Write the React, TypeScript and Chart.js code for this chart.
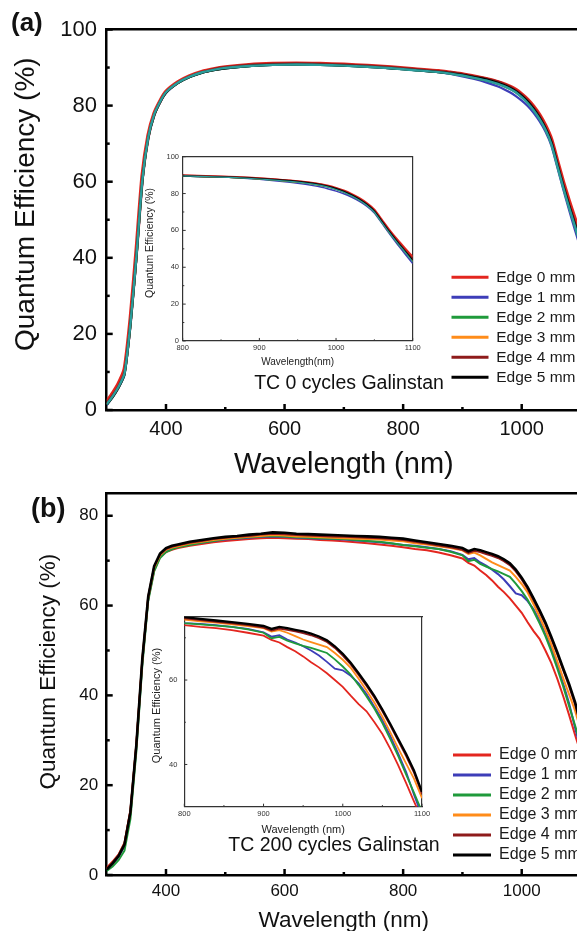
import React, { useEffect, useRef } from 'react';
import { Chart, registerables } from 'chart.js';

Chart.register(...registerables);

const FONT = "'Liberation Sans', Arial, Helvetica, sans-serif";

// ---------------- data ----------------
const seriesLabels = ['Edge 0 mm', 'Edge 1 mm', 'Edge 2 mm', 'Edge 3 mm', 'Edge 4 mm', 'Edge 5 mm'];
const seriesColors = ['#e3261f', '#3d3db8', '#1f9a3b', '#ff8c1a', '#8e1b1b', '#000000'];
const extraColor = '#2a9d9b';

const mainXTicks = [400, 600, 800, 1000];
const mainXMinor = [500, 700, 900];
const mainYTicksA = [0, 20, 40, 60, 80, 100];
const mainYMinorA = [10, 30, 50, 70, 90];
const mainYTicksB = [0, 20, 40, 60, 80];
const mainYMinorB = [10, 30, 50, 70];
const insetXTicks = [800, 900, 1000, 1100];
const insetXMinor = [850, 950, 1050];
const insetYTicksA = [0, 20, 40, 60, 80, 100];
const insetYMinorA = [10, 30, 50, 70, 90];
const insetYTicksB = [40, 60];
const insetYMinorB = [50, 70];

// Panel (a): TC 0 cycles
const wavelengthA = [300, 310, 320, 330, 340, 350, 360, 370, 380, 390, 400, 420, 440, 460, 480, 500, 540, 580, 620, 660, 700, 740, 780, 820, 860, 880, 900, 920, 940, 960, 970, 980, 990, 1000, 1010, 1020, 1030, 1040, 1050, 1060, 1070, 1080, 1090, 1100];
const qeA_edge0 = [2.2, 4.4, 7.0, 10.8, 24.0, 42.0, 61.5, 72.2, 77.9, 81.2, 83.7, 86.2, 87.8, 88.9, 89.6, 90.1, 90.7, 91.0, 91.1, 91.0, 90.8, 90.5, 90.1, 89.6, 89.1, 88.7, 88.3, 87.7, 87.0, 86.2, 85.7, 85.0, 84.2, 83.0, 81.6, 79.8, 77.6, 74.8, 71.2, 65.6, 60.0, 54.9, 50.2, 45.6];
const qeA_edge1 = [1.3, 3.3, 5.8, 9.2, 22.0, 39.5, 59.5, 71.2, 77.3, 80.8, 83.3, 85.9, 87.5, 88.6, 89.3, 89.8, 90.4, 90.7, 90.8, 90.7, 90.5, 90.2, 89.8, 89.3, 88.8, 88.3, 87.7, 87.0, 86.1, 85.0, 84.3, 83.5, 82.5, 81.3, 79.9, 78.1, 75.9, 73.2, 69.5, 63.8, 58.0, 52.5, 47.2, 42.0];
const qeA_edge2 = [1.4, 3.4, 5.9, 9.4, 22.3, 39.8, 59.8, 71.4, 77.4, 80.9, 83.4, 85.9, 87.5, 88.6, 89.3, 89.8, 90.4, 90.7, 90.8, 90.7, 90.5, 90.2, 89.8, 89.3, 88.8, 88.4, 87.9, 87.3, 86.6, 85.7, 85.1, 84.4, 83.5, 82.3, 80.8, 78.9, 76.6, 73.8, 70.0, 64.3, 58.6, 53.3, 48.2, 43.2];
const qeA_edge3 = [1.5, 3.5, 6.0, 9.5, 22.5, 40.0, 60.0, 71.5, 77.5, 81.0, 83.5, 86.0, 87.6, 88.7, 89.4, 89.9, 90.5, 90.8, 90.9, 90.8, 90.6, 90.3, 89.9, 89.4, 88.9, 88.5, 88.0, 87.4, 86.7, 85.8, 85.2, 84.5, 83.6, 82.4, 80.9, 79.0, 76.7, 73.9, 70.2, 64.5, 58.8, 53.5, 48.5, 43.5];
const qeA_edge4 = [1.8, 3.9, 6.4, 10.0, 23.2, 41.0, 60.8, 71.8, 77.7, 81.1, 83.6, 86.1, 87.7, 88.8, 89.6, 90.1, 90.7, 91.0, 91.1, 91.0, 90.8, 90.5, 90.1, 89.6, 89.1, 88.8, 88.3, 87.7, 87.1, 86.3, 85.7, 85.0, 84.0, 82.9, 81.4, 79.5, 77.3, 74.4, 70.8, 65.2, 59.5, 54.2, 49.3, 44.5];
const qeA_edge5 = [1.4, 3.4, 5.9, 9.4, 22.3, 39.8, 59.8, 71.4, 77.4, 80.9, 83.4, 85.9, 87.5, 88.6, 89.3, 89.8, 90.4, 90.7, 90.8, 90.7, 90.5, 90.2, 89.8, 89.3, 88.8, 88.5, 88.1, 87.5, 86.9, 86.0, 85.4, 84.7, 83.8, 82.6, 81.1, 79.2, 76.9, 74.1, 70.4, 64.7, 59.0, 53.7, 48.7, 43.7];
const qeA_extra = [1.5, 3.6, 6.1, 9.6, 22.6, 40.2, 60.2, 71.6, 77.6, 81.0, 83.5, 86.0, 87.6, 88.7, 89.4, 89.9, 90.4, 90.7, 90.8, 90.7, 90.5, 90.2, 89.8, 89.3, 88.8, 88.4, 87.9, 87.3, 86.6, 85.7, 85.1, 84.4, 83.5, 82.2, 80.7, 78.8, 76.5, 73.7, 69.9, 64.2, 58.5, 53.2, 48.2, 43.0];

// Panel (b): TC 200 cycles
const wavelengthB = [300, 310, 320, 330, 340, 350, 360, 370, 380, 390, 400, 410, 420, 440, 460, 480, 500, 520, 540, 560, 580, 600, 620, 640, 660, 680, 700, 720, 740, 760, 780, 800, 820, 840, 860, 880, 900, 910, 920, 930, 940, 950, 960, 970, 980, 990, 1000, 1010, 1020, 1030, 1040, 1050, 1060, 1070, 1080, 1090, 1100];
const qeB_edge0 = [1.6, 3.0, 4.6, 7.2, 14.5, 29.0, 47.5, 61.4, 67.8, 70.8, 71.9, 72.4, 72.8,
  73.3, 73.7, 74.1, 74.4, 74.6, 74.8, 75.0, 75.1, 75.0, 74.9, 74.8, 74.6, 74.5, 74.3, 74.1, 73.9, 73.6, 73.3, 73.0, 72.6, 72.3, 71.8, 71.2,
  70.5, 69.5, 68.9, 67.8, 66.8, 65.6, 64.2, 63.0, 61.6, 60.0, 58.4, 56.3, 54.3, 52.6, 50.0, 47.2, 43.7, 39.8, 35.6, 31.2, 27.0];
const qeB_edge1 = [1.2, 2.5, 4.0, 6.4, 13.6, 28.5, 47.2, 61.5, 68.0, 71.0, 72.2, 72.7, 73.1,
  73.6, 74.0, 74.4, 74.7, 74.9, 75.1, 75.3, 75.4, 75.3, 75.1, 75.0, 74.9, 74.8, 74.7, 74.5, 74.3, 74.1, 73.8, 73.5, 73.3, 73.0, 72.6, 72.1,
  71.3, 70.3, 70.6, 69.6, 68.9, 68.0, 67.0, 65.8, 64.3, 62.7, 62.3, 61.0, 59.2, 56.7, 53.6, 50.5, 46.8, 42.6, 38.2, 32.8, 27.8];
const qeB_edge2 = [0.9, 1.9, 3.3, 5.4, 12.5, 27.5, 46.5, 61.0, 67.6, 70.6, 71.9, 72.5, 73.0,
  73.5, 74.0, 74.4, 74.8, 75.0, 75.2, 75.4, 75.5, 75.4, 75.2, 75.1, 75.0, 74.9, 74.8, 74.6, 74.4, 74.2, 73.9, 73.5, 73.2, 72.9, 72.6, 72.0,
  71.2, 69.9, 70.2, 69.3, 68.7, 68.1, 67.6, 67.0, 66.4, 64.9, 63.2, 61.3, 58.8, 56.1, 53.2, 49.8, 46.0, 42.0, 37.6, 33.3, 28.8];
const qeB_edge3 = [1.3, 2.7, 4.3, 6.9, 14.0, 29.0, 47.8, 61.8, 68.4, 71.2, 72.4, 72.9, 73.2,
  73.8, 74.2, 74.6, 74.9, 75.1, 75.3, 75.5, 75.7, 75.6, 75.4, 75.3, 75.2, 75.1, 75.0, 74.9, 74.8, 74.7, 74.5, 74.3, 73.9, 73.6, 73.2, 72.8,
  72.3, 71.5, 71.8, 71.2, 70.4, 69.6, 69.0, 68.4, 67.8, 66.4, 64.8, 62.9, 60.3, 57.5, 54.6, 51.3, 47.6, 43.8, 40.2, 36.6, 32.0];
const qeB_edge4 = [1.4, 2.8, 4.4, 7.0, 14.2, 29.2, 48.0, 62.0, 68.6, 71.4, 72.6, 73.1, 73.4,
  74.0, 74.4, 74.8, 75.1, 75.3, 75.5, 75.8, 76.0, 75.9, 75.7, 75.6, 75.5, 75.4, 75.3, 75.2, 75.1, 75.0, 74.8, 74.6, 74.2, 73.8, 73.4, 73.0,
  72.4, 71.7, 72.2, 71.9, 71.5, 71.1, 70.6, 69.9, 69.0, 67.6, 65.8, 63.7, 61.2, 58.6, 55.8, 52.6, 49.2, 45.6, 42.0, 38.0, 33.0];
const qeB_edge5 = [1.2, 2.6, 4.2, 6.8, 14.0, 29.0, 48.0, 62.0, 68.8, 71.6, 72.8, 73.3, 73.6,
  74.2, 74.6, 75.0, 75.3, 75.5, 75.8, 76.0, 76.3, 76.2, 76.0, 75.9, 75.8, 75.7, 75.6, 75.5, 75.4, 75.3, 75.1, 74.9, 74.5, 74.1, 73.7, 73.3,
  72.8, 72.1, 72.6, 72.3, 71.9, 71.5, 71.0, 70.3, 69.4, 68.0, 66.2, 64.1, 61.6, 59.0, 56.2, 53.0, 49.6, 46.0, 42.5, 38.5, 33.5];

const seriesA = [qeA_edge0, qeA_edge1, qeA_edge2, qeA_edge3, qeA_edge4, qeA_edge5];
const seriesB = [qeB_edge0, qeB_edge1, qeB_edge2, qeB_edge3, qeB_edge4, qeB_edge5];

// ---------------- helpers ----------------
const toPoints = (xs: number[], ys: number[]) => xs.map((x, i) => ({ x, y: ys[i] }));
const fixTicks = (values: number[]) => (s: any) => {
  s.ticks = values.map((v) => ({ value: v }));
};
const labelOf = (v: any) => String(v);

function innerTicks(spec: any) {
  return {
    id: 'innerTicks',
    afterDatasetsDraw(chart: any) {
      const { ctx, chartArea } = chart;
      ctx.save();
      ctx.strokeStyle = spec.color;
      ctx.lineWidth = spec.width;
      for (const ax of spec.axes) {
        const s = chart.scales[ax.id];
        const draw = (v: number, len: number) => {
          const p = s.getPixelForValue(v);
          ctx.beginPath();
          if (s.isHorizontal()) {
            ctx.moveTo(p, chartArea.bottom);
            ctx.lineTo(p, chartArea.bottom - len);
          } else {
            ctx.moveTo(chartArea.left, p);
            ctx.lineTo(chartArea.left + len, p);
          }
          ctx.stroke();
        };
        ax.major.forEach((v: number) => draw(v, spec.majorLen));
        ax.minor.forEach((v: number) => draw(v, spec.minorLen));
      }
      ctx.restore();
    },
  };
}

const noGrid = { display: false, drawTicks: false };

function frameAxis(position: string, size: number, color: string, width: number) {
  return {
    type: 'linear',
    position,
    display: true,
    min: 0,
    max: 1,
    grid: noGrid,
    ticks: { display: false },
    border: { display: true, color, width },
    afterFit: (s: any) => {
      if (position === 'top' || position === 'bottom') s.height = size;
      else s.width = size;
    },
  };
}

const baseOptions = {
  responsive: false,
  animation: false,
  devicePixelRatio: 1,
  events: [],
};

// ---------------- chart configs ----------------
function mainA() {
  const widths = [3.8, 2.2, 2.2, 2.2, 2.2, 2.2];
  const datasets: any[] = seriesA.map((ys, i) => ({
    label: seriesLabels[i],
    data: toPoints(wavelengthA, ys),
    borderColor: seriesColors[i],
    backgroundColor: seriesColors[i],
    borderWidth: widths[i],
    pointRadius: 0,
    tension: 0.2,
    order: 7 - i,
  }));
  datasets.push({ label: '', data: toPoints(wavelengthA, qeA_extra), borderColor: extraColor, backgroundColor: extraColor, borderWidth: 2.4, pointRadius: 0, tension: 0.2, order: 0 });
  return {
    type: 'line',
    data: { datasets },
    options: {
      ...baseOptions,
      layout: { padding: { left: 0, top: 29.5, right: 30, bottom: 0 } },
      plugins: { legend: { display: false }, tooltip: { enabled: false } },
      scales: {
        x: {
          type: 'linear', position: 'bottom', min: 300, max: 1100,
          afterBuildTicks: fixTicks(mainXTicks),
          afterFit: (s: any) => { s.height = 72; },
          grid: noGrid,
          border: { display: true, color: '#000', width: 2.5 },
          ticks: { padding: 7, autoSkip: false, maxRotation: 0, color: '#111', font: { family: FONT, size: 20 }, callback: labelOf },
          title: { display: true, text: 'Wavelength (nm)', color: '#111', font: { family: FONT, size: 29 }, padding: { top: 0, bottom: 0 } },
        },
        y: {
          type: 'linear', position: 'left', min: 0, max: 100,
          afterBuildTicks: fixTicks(mainYTicksA),
          afterFit: (s: any) => { s.width = 106.7; },
          grid: noGrid,
          border: { display: true, color: '#000', width: 2.5 },
          ticks: { padding: 9.7, autoSkip: false, color: '#111', font: { family: FONT, size: 22 }, callback: labelOf },
          title: { display: true, text: '    Quantum Efficiency (%)', color: '#111', font: { family: FONT, size: 28 }, padding: { top: 9, bottom: 0 } },
        },
        x2: frameAxis('top', 0, '#000', 2.5),
      },
    },
    plugins: [innerTicks({ color: '#000', width: 2.5, majorLen: 6, minorLen: 3, axes: [
      { id: 'x', major: mainXTicks, minor: mainXMinor },
      { id: 'y', major: mainYTicksA, minor: mainYMinorA },
    ] })],
  };
}

function mainB() {
  const widths = [2, 2, 2, 2, 2, 2.6];
  const datasets = seriesB.map((ys, i) => ({
    label: seriesLabels[i],
    data: toPoints(wavelengthB, ys),
    borderColor: seriesColors[i],
    backgroundColor: seriesColors[i],
    borderWidth: widths[i],
    pointRadius: 0,
    tension: 0,
    order: 5 - i,
  }));
  return {
    type: 'line',
    data: { datasets },
    options: {
      ...baseOptions,
      layout: { padding: { left: 0, top: 33.3, right: 30, bottom: 0 } },
      plugins: { legend: { display: false }, tooltip: { enabled: false } },
      scales: {
        x: {
          type: 'linear', position: 'bottom', min: 300, max: 1100,
          afterBuildTicks: fixTicks(mainXTicks),
          afterFit: (s: any) => { s.height = 60; },
          grid: noGrid,
          border: { display: true, color: '#000', width: 2.5 },
          ticks: { padding: 5.8, autoSkip: false, maxRotation: 0, color: '#111', font: { family: FONT, size: 17 }, callback: labelOf },
          title: { display: true, text: 'Wavelength (nm)', color: '#111', font: { family: FONT, size: 22.5 }, padding: { top: 0, bottom: 0.5 } },
        },
        y: {
          type: 'linear', position: 'left', min: 0, max: 85,
          afterBuildTicks: fixTicks(mainYTicksB),
          afterFit: (s: any) => { s.width = 106.7; },
          grid: noGrid,
          border: { display: true, color: '#000', width: 2.5 },
          ticks: { padding: 8.5, autoSkip: false, color: '#111', font: { family: FONT, size: 17 }, callback: labelOf },
          title: { display: true, text: '    Quantum Efficiency (%)', color: '#111', font: { family: FONT, size: 22.5 }, padding: { top: 35.5, bottom: 0 } },
        },
        x2: frameAxis('top', 0, '#000', 2.5),
      },
    },
    plugins: [innerTicks({ color: '#000', width: 2.5, majorLen: 6, minorLen: 3, axes: [
      { id: 'x', major: mainXTicks, minor: mainXMinor },
      { id: 'y', major: mainYTicksB, minor: mainYMinorB },
    ] })],
  };
}

function insetA() {
  const widths = [2.2, 1.5, 1.5, 1.5, 1.5, 1.5];
  const datasets: any[] = seriesA.map((ys, i) => ({
    label: seriesLabels[i],
    data: toPoints(wavelengthA, ys),
    borderColor: seriesColors[i],
    backgroundColor: seriesColors[i],
    borderWidth: widths[i],
    pointRadius: 0,
    tension: 0.2,
    order: 7 - i,
  }));
  datasets.push({ label: '', data: toPoints(wavelengthA, qeA_extra), borderColor: extraColor, backgroundColor: extraColor, borderWidth: 1.2, pointRadius: 0, tension: 0.2, order: 0 });
  return {
    type: 'line',
    data: { datasets },
    options: {
      ...baseOptions,
      layout: { padding: 0 },
      plugins: {
        legend: { display: false },
        tooltip: { enabled: false },
        title: { display: true, text: '(a)', position: 'top', align: 'start', color: '#111', font: { family: FONT, size: 26, weight: 'bold', lineHeight: 1.2 }, padding: { top: 8.4, bottom: 117.1 } },
        subtitle: { display: true, text: 'TC 0 cycles Galinstan', position: 'bottom', align: 'center', color: '#111', font: { family: FONT, size: 19.5, lineHeight: 1 }, padding: { top: 0, bottom: 0 } },
      },
      scales: {
        x: {
          type: 'linear', position: 'bottom', min: 800, max: 1100,
          afterBuildTicks: fixTicks(insetXTicks),
          afterFit: (s: any) => { s.height = 32.55; },
          grid: noGrid,
          border: { display: true, color: '#333', width: 1.2 },
          ticks: { padding: 2.8, autoSkip: false, maxRotation: 0, color: '#333', font: { family: FONT, size: 7.5 }, callback: labelOf },
          title: { display: true, text: 'Wavelength(nm)', color: '#222', font: { family: FONT, size: 10, lineHeight: 1.2 }, padding: { top: 0, bottom: 4.85 } },
        },
        y: {
          type: 'linear', position: 'left', min: 0, max: 100,
          afterBuildTicks: fixTicks(insetYTicksA),
          afterFit: (s: any) => { s.width = 171.7; },
          grid: noGrid,
          border: { display: true, color: '#333', width: 1.2 },
          ticks: { padding: 3.7, autoSkip: false, color: '#333', font: { family: FONT, size: 7.5 }, callback: labelOf },
          title: { display: true, text: '    Quantum Efficiency (%)', color: '#222', font: { family: FONT, size: 10.5 }, padding: { top: 132.7, bottom: 0 } },
        },
        x2: frameAxis('top', 0, '#333', 1.2),
        y2: frameAxis('right', 274.3, '#333', 1.2),
      },
    },
    plugins: [innerTicks({ color: '#333', width: 1, majorLen: 3, minorLen: 1.6, axes: [
      { id: 'x', major: insetXTicks, minor: insetXMinor },
      { id: 'y', major: insetYTicksA, minor: insetYMinorA },
    ] })],
  };
}

function insetB() {
  const widths = [1.8, 1.8, 1.8, 1.8, 1.8, 2.3];
  const datasets = seriesB.map((ys, i) => ({
    label: seriesLabels[i],
    data: toPoints(wavelengthB, ys),
    borderColor: seriesColors[i],
    backgroundColor: seriesColors[i],
    borderWidth: widths[i],
    pointRadius: 0,
    tension: 0,
    order: 5 - i,
  }));
  return {
    type: 'line',
    data: { datasets },
    options: {
      ...baseOptions,
      layout: { padding: { left: 0, top: 0, right: 0, bottom: 0.6 } },
      plugins: {
        legend: { display: false },
        tooltip: { enabled: false },
        title: { display: true, text: '(b)', position: 'top', align: 'start', color: '#111', font: { family: FONT, size: 27, weight: 'bold', lineHeight: 1.2 }, padding: { top: 0.3, bottom: 91 } },
        subtitle: { display: true, text: 'TC 200 cycles Galinstan', position: 'bottom', align: 'center', color: '#111', font: { family: FONT, size: 19.5, lineHeight: 1 }, padding: { top: 0, bottom: 0 } },
      },
      scales: {
        x: {
          type: 'linear', position: 'bottom', min: 800, max: 1100,
          afterBuildTicks: fixTicks(insetXTicks),
          afterFit: (s: any) => { s.height = 29.2; },
          grid: noGrid,
          border: { display: true, color: '#333', width: 1.2 },
          ticks: { padding: 3.1, autoSkip: false, maxRotation: 0, color: '#333', font: { family: FONT, size: 7.5 }, callback: labelOf },
          title: { display: true, text: 'Wavelength (nm)', color: '#222', font: { family: FONT, size: 11, lineHeight: 1 }, padding: { top: 0, bottom: 0.4 } },
        },
        y: {
          type: 'linear', position: 'left', min: 30, max: 75,
          afterBuildTicks: fixTicks(insetYTicksB),
          afterFit: (s: any) => { s.width = 153.3; },
          grid: noGrid,
          border: { display: true, color: '#333', width: 1.2 },
          ticks: { padding: 7, autoSkip: false, color: '#333', font: { family: FONT, size: 7.5 }, callback: labelOf },
          title: { display: true, text: '    Quantum Efficiency (%)', color: '#222', font: { family: FONT, size: 11 }, padding: { top: 119.4, bottom: 0 } },
        },
        x2: frameAxis('top', 0, '#333', 1.2),
        y2: frameAxis('right', 215, '#333', 1.2),
      },
    },
    plugins: [innerTicks({ color: '#333', width: 1, majorLen: 3, minorLen: 1.6, axes: [
      { id: 'x', major: insetXTicks, minor: insetXMinor },
      { id: 'y', major: insetYTicksB, minor: insetYMinorB },
    ] })],
  };
}

function legendChart(fontSize: number, pad: number, boxWidth: number) {
  return () => ({
    type: 'line',
    data: {
      datasets: seriesLabels.map((label, i) => ({
        label,
        data: [],
        borderColor: seriesColors[i],
        backgroundColor: seriesColors[i],
        borderWidth: 0,
      })),
    },
    options: {
      ...baseOptions,
      layout: { padding: 0 },
      scales: { x: { display: false }, y: { display: false } },
      plugins: {
        tooltip: { enabled: false },
        legend: {
          display: true,
          position: 'top',
          align: 'start',
          labels: { boxWidth, boxHeight: 3, padding: pad, color: '#1a1a1a', font: { family: FONT, size: fontSize } },
        },
      },
    },
  });
}

// ---------------- components ----------------
type Box = { left: number; top: number; width: number; height: number };

function ChartBox({ box, make }: { box: Box; make: () => any }) {
  const ref = useRef<HTMLCanvasElement | null>(null);
  useEffect(() => {
    if (!ref.current) return;
    const chart = new Chart(ref.current, make() as any);
    return () => chart.destroy();
  }, []);
  return (
    <canvas
      ref={ref}
      width={box.width}
      height={box.height}
      style={{ position: 'absolute', left: box.left, top: box.top, width: box.width, height: box.height }}
    />
  );
}

const legendA = legendChart(15.5, 4.5, 37);
const legendB = legendChart(16, 4, 38);

export default function App() {
  return (
    <div style={{ position: 'fixed', left: 0, top: 0, width: 577, height: 931, overflow: 'hidden', background: '#ffffff' }}>
      <ChartBox box={{ left: 0, top: 0, width: 611, height: 482 }} make={mainA} />
      <ChartBox box={{ left: 0, top: 460, width: 611, height: 475 }} make={mainB} />
      <ChartBox box={{ left: 11, top: 0, width: 676, height: 393 }} make={insetA} />
      <ChartBox box={{ left: 31, top: 493, width: 606, height: 363 }} make={insetB} />
      <ChartBox box={{ left: 447, top: 265, width: 150, height: 300 }} make={legendA} />
      <ChartBox box={{ left: 449, top: 743, width: 150, height: 300 }} make={legendB} />
    </div>
  );
}
